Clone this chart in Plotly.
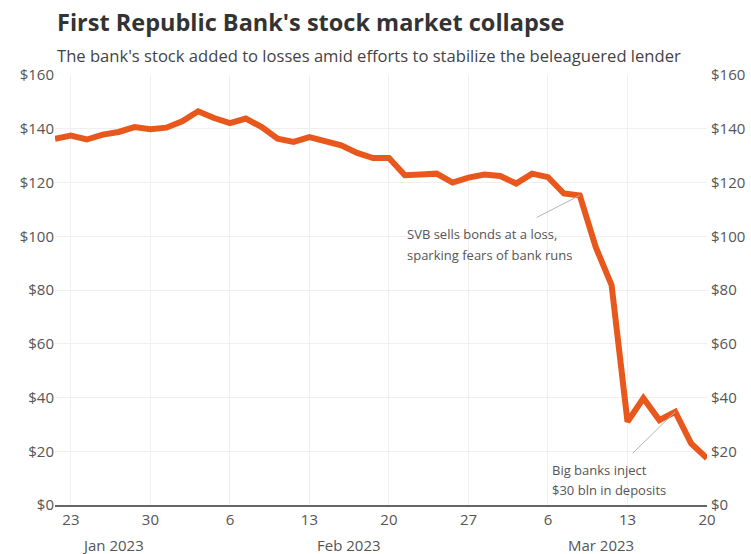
import plotly.graph_objects as go

dates = [
    "2023-01-20", "2023-01-23", "2023-01-24", "2023-01-25", "2023-01-26", "2023-01-27",
    "2023-01-30", "2023-01-31", "2023-02-01", "2023-02-02", "2023-02-03",
    "2023-02-06", "2023-02-07", "2023-02-08", "2023-02-09", "2023-02-10",
    "2023-02-13", "2023-02-14", "2023-02-15", "2023-02-16", "2023-02-17",
    "2023-02-20", "2023-02-21", "2023-02-22", "2023-02-23", "2023-02-24",
    "2023-02-27", "2023-02-28", "2023-03-01", "2023-03-02", "2023-03-03",
    "2023-03-06", "2023-03-07", "2023-03-08", "2023-03-09", "2023-03-10",
    "2023-03-13", "2023-03-14", "2023-03-15", "2023-03-16", "2023-03-17",
    "2023-03-20",
]
prices = [
    136.3, 137.5, 136.0, 137.8, 138.8, 140.6,
    139.8, 140.4, 142.8, 146.5, 144.0,
    142.1, 143.8, 140.6, 136.3, 135.1,
    136.9, 135.4, 133.8, 131.0, 129.1,
    129.1, 122.7, 123.0, 123.3, 120.0,
    121.8, 123.0, 122.4, 119.6, 123.3,
    122.0, 115.9, 115.2, 96.0, 81.8,
    31.0, 39.7, 31.6, 34.7, 22.9,
    17.4,
]
tick_dates = ["2023-01-23", "2023-01-30", "2023-02-06", "2023-02-13", "2023-02-20",
              "2023-02-27", "2023-03-06", "2023-03-13", "2023-03-20"]
tick_text = ["23", "30", "6", "13", "20", "27", "6", "13", "20"]
month_labels = ["Jan 2023", "Feb 2023", "Mar 2023"]
month_pos = ["2023-01-25 15:00", "2023-02-15 12:00", "2023-03-09 08:00"]
y_ticks = [0, 20, 40, 60, 80, 100, 120, 140, 160]
y_tick_text = ["$0", "$20", "$40", "$60", "$80", "$100", "$120", "$140", "$160"]

title = "First Republic Bank's stock market collapse"
subtitle = "The bank's stock added to losses amid efforts to stabilize the beleaguered lender"
note1 = ["SVB sells bonds at a loss,", "sparking fears of bank runs"]
note2 = ["Big banks inject", "$30 bln in deposits"]

FONT = "Open Sans"
ORANGE = "#e8581c"
GREY_TXT = "#555555"

fig = go.Figure()
fig.add_trace(go.Scatter(x=dates, y=prices, mode="lines",
                         line=dict(color=ORANGE, width=6, shape="linear"),
                         hoverinfo="skip", showlegend=False))
fig.add_trace(go.Scatter(x=dates, y=prices, mode="lines", yaxis="y2",
                         line=dict(color="rgba(0,0,0,0)", width=0),
                         hoverinfo="skip", showlegend=False))

fig.update_layout(
    width=751, height=554,
    margin=dict(l=55, r=44, t=75, b=49, autoexpand=False),
    paper_bgcolor="white", plot_bgcolor="white",
    font=dict(family=FONT, color=GREY_TXT, size=14),
    xaxis=dict(
        type="date", automargin=False,
        range=[dates[0], dates[-1]],
        rangebreaks=[dict(bounds=["sat", "mon"])],
        tickmode="array", tickvals=tick_dates, ticktext=tick_text,
        showgrid=True, gridcolor="#efefef", gridwidth=1,
        showline=True, linecolor="#666666", linewidth=2,
        ticks="", tickfont=dict(size=15, color=GREY_TXT),
        zeroline=False,
    ),
    yaxis=dict(
        automargin=False,
        range=[0, 160], tickmode="array", tickvals=y_ticks, ticktext=y_tick_text,
        showgrid=True, gridcolor="#efefef", gridwidth=1,
        zeroline=False, ticks="", tickfont=dict(size=15, color=GREY_TXT),
    ),
    yaxis2=dict(
        automargin=False,
        range=[0, 160], tickmode="array", tickvals=y_ticks, ticktext=y_tick_text,
        overlaying="y", side="right", showgrid=False, zeroline=False,
        ticks="", tickfont=dict(size=15, color=GREY_TXT), ticklabelstandoff=3,
    ),
)

# title & subtitle
fig.add_annotation(text=title, xref="paper", yref="paper", x=0, y=1.123,
                   xanchor="left", yanchor="middle", showarrow=False,
                   font=dict(family=FONT, size=23.5, color="#333333", weight=700))
fig.add_annotation(text=subtitle, xref="paper", yref="paper", x=0, y=1.0465,
                   xanchor="left", yanchor="middle", showarrow=False,
                   font=dict(family=FONT, size=16.6, color="#444444"))

# month labels
for lab, pos in zip(month_labels, month_pos):
    fig.add_annotation(text=lab, xref="x", yref="paper", x=pos, y=-0.093,
                       xanchor="center", yanchor="middle", showarrow=False,
                       font=dict(family=FONT, size=15, color=GREY_TXT))

# annotation 1: SVB
i1 = dates.index("2023-03-08")
fig.add_shape(type="line", xref="x", yref="y",
              x0=dates[i1], y0=prices[i1], x1="2023-03-03 07:00", y1=107,
              line=dict(color="#b5b5b5", width=1))
for k, line in enumerate(note1):
    fig.add_annotation(text=line, xref="x", yref="y", x="2023-02-21", y=101 - 8 * k,
                       xanchor="left", yanchor="middle", showarrow=False,
                       font=dict(family=FONT, size=13, color=GREY_TXT))

# annotation 2: Big banks
i2 = dates.index("2023-03-16")
fig.add_shape(type="line", xref="x", yref="y",
              x0=dates[i2], y0=prices[i2], x1="2023-03-13 08:00", y1=19.3,
              line=dict(color="#b5b5b5", width=1))
for k, line in enumerate(note2):
    fig.add_annotation(text=line, xref="x", yref="y", x="2023-03-06 03:00", y=13 - 7.5 * k,
                       xanchor="left", yanchor="middle", showarrow=False,
                       font=dict(family=FONT, size=13, color=GREY_TXT))

fig.write_html("out.html")
